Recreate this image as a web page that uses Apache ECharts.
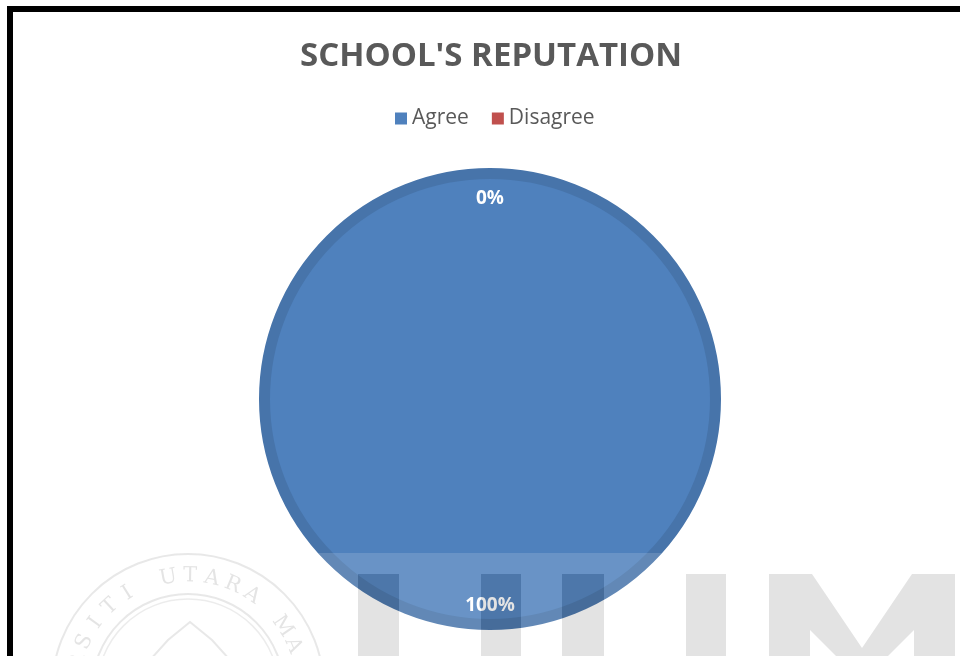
<!DOCTYPE html>
<html>
<head>
<meta charset="utf-8">
<script src="https://cdn.jsdelivr.net/npm/echarts@6/dist/echarts.min.js"></script>
<style>
  html, body { margin: 0; padding: 0; background: #ffffff; }
  #chart { width: 960px; height: 656px; }
</style>
</head>
<body>
<div id="chart"></div>
<script>
// Survey answers for the "school's reputation" question
const chartTitle = "SCHOOL'S REPUTATION";
const categories = ['Agree', 'Disagree'];
const responses = [100, 0];
const sliceColors = ['#4f81bd', '#c0504d'];

const chart = echarts.init(document.getElementById('chart'), null, { renderer: 'canvas' });

const pieData = categories.map((name, i) => ({
  name: name,
  value: responses[i],
  itemStyle: responses[i] === 0 ? { borderWidth: 0 } : {}
}));

// the zero-width slice keeps its label a little lower, away from the rim
const labelData = categories.map((name, i) => ({
  name: name,
  value: responses[i],
  label: responses[i] === 0 ? { formatter: '{low|{d}%}' } : {}
}));

// Seal lettering laid out around an arc
const sealText = 'UNIVERSITI UTARA MALAYSIA';
const sealCx = 188, sealCy = 690, sealR = 114;
const sealLetters = [];
for (let i = 0; i < sealText.length; i++) {
  const ch = sealText[i];
  if (ch === ' ') continue;
  const deg = -10 + (i - 11) * 11;
  const rad = deg * Math.PI / 180;
  sealLetters.push({
    type: 'text',
    x: sealCx + sealR * Math.sin(rad),
    y: sealCy - sealR * Math.cos(rad),
    rotation: -rad,
    silent: true,
    z: 101,
    style: {
      text: ch,
      font: '21px "DejaVu Serif"',
      fill: 'rgba(65,65,65,0.14)',
      align: 'center',
      verticalAlign: 'middle'
    }
  });
}

const markFill = 'rgba(65,65,65,0.15)';
const haze = 'rgba(255,255,255,0.15)';
const bandTop = 574;
// vertical strokes of the two U letters: [left, right]
const strokes = [[358, 399], [481, 521], [562, 604], [686, 726]];

// haze band, left open where the strokes sit
const hazeRects = [{ x: 13, y: 553, width: 960, height: bandTop - 553 }];
let cursor = 13;
strokes.forEach(s => {
  hazeRects.push({ x: cursor, y: bandTop, width: s[0] - cursor, height: 100 });
  cursor = s[1];
});
hazeRects.push({ x: cursor, y: bandTop, width: 960 - cursor, height: 100 });

const option = {
  animation: false,
  color: sliceColors,
  title: {
    text: chartTitle,
    left: 486,
    textAlign: 'center',
    top: 35,
    textStyle: {
      fontFamily: 'Open Sans',
      fontWeight: 'bold',
      fontSize: 33,
      color: '#595959'
    }
  },
  legend: {
    data: categories,
    left: 390,
    top: 103,
    icon: 'rect',
    itemWidth: 12,
    itemHeight: 12,
    itemGap: 23,
    itemStyle: { borderWidth: 0 },
    textStyle: {
      fontFamily: 'Open Sans',
      fontSize: 21,
      color: '#595959'
    }
  },
  series: [
    {
      name: 'Reputation',
      type: 'pie',
      center: [490, 399],
      radius: [0, 225.5],
      startAngle: 90,
      clockwise: true,
      silent: true,
      z: 2,
      itemStyle: { borderColor: '#4774aa', borderWidth: 11 },
      label: { show: false },
      labelLine: { show: false },
      data: pieData
    },
    {
      name: 'Reputation labels',
      type: 'pie',
      center: [490, 399],
      radius: [177, 231],
      startAngle: 90,
      clockwise: true,
      silent: true,
      z: 2,
      itemStyle: { color: 'rgba(0,0,0,0)', borderWidth: 0 },
      label: {
        show: true,
        position: 'inside',
        formatter: '{d}%',
        fontFamily: 'Open Sans',
        fontWeight: 'bold',
        fontSize: 19,
        color: '#ffffff',
        rich: {
          low: {
            fontFamily: 'Open Sans',
            fontWeight: 'bold',
            fontSize: 19,
            color: '#ffffff',
            padding: [13, 0, 0, 0]
          }
        }
      },
      labelLine: { show: false },
      data: labelData
    }
  ],
  graphic: {
    elements: [
      // frame
      { type: 'rect', shape: { x: 7, y: 6, width: 960, height: 6 }, style: { fill: '#000' }, z: 200 },
      { type: 'rect', shape: { x: 7, y: 6, width: 6, height: 660 }, style: { fill: '#000' }, z: 200 }
    ]
    .concat(hazeRects.map(r => ({ type: 'rect', silent: true, shape: r, style: { fill: haze }, z: 100 })))
    .concat(strokes.map(s => ({
      type: 'rect', silent: true, z: 101,
      shape: { x: s[0], y: bandTop, width: s[1] - s[0], height: 100 },
      style: { fill: markFill }
    })))
    .concat([
      {
        type: 'polygon', silent: true, z: 101,
        shape: { points: [[769, bandTop], [812, bandTop], [862, 648], [912, bandTop], [955, bandTop], [955, 660], [914, 660], [914, 630], [884, 660], [840, 660], [810, 630], [810, 660], [769, 660]] },
        style: { fill: markFill }
      },
      // seal rings
      { type: 'circle', silent: true, shape: { cx: sealCx, cy: sealCy, r: 136 }, style: { fill: 'none', stroke: 'rgba(65,65,65,0.12)', lineWidth: 2 }, z: 101 },
      { type: 'circle', silent: true, shape: { cx: sealCx, cy: sealCy, r: 96 }, style: { fill: 'none', stroke: 'rgba(65,65,65,0.12)', lineWidth: 2 }, z: 101 },
      { type: 'circle', silent: true, shape: { cx: sealCx, cy: sealCy, r: 91 }, style: { fill: 'none', stroke: 'rgba(65,65,65,0.10)', lineWidth: 1.5 }, z: 101 },
      {
        type: 'polyline', silent: true, z: 101,
        shape: { points: [[150, 660], [168, 640], [190, 622], [212, 640], [230, 660]] },
        style: { fill: 'none', stroke: 'rgba(65,65,65,0.12)', lineWidth: 2 }
      }
    ])
    .concat(sealLetters)
  }
};

chart.setOption(option);
</script>
</body>
</html>
